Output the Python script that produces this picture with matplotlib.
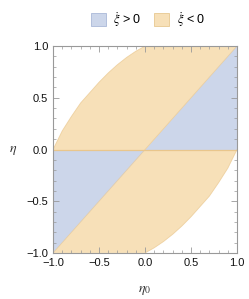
import matplotlib
matplotlib.use('Agg')
import matplotlib.pyplot as plt
from matplotlib.patches import Patch
from matplotlib.ticker import MultipleLocator

plt.rcParams['font.family'] = ['Liberation Sans', 'DejaVu Sans']
plt.rcParams['mathtext.fontset'] = 'stix'

# boundary curve (upper-left edge of the shaded area)
curve_x = [-1.0, -0.9, -0.8, -0.7, -0.6, -0.5, -0.4, -0.3, -0.2, -0.1, 0.0]
curve_y = [0.0, 0.18, 0.32, 0.45, 0.55, 0.65, 0.74, 0.82, 0.89, 0.95, 1.0]
# lower-right edge is the same curve mirrored through the origin
low_x = [-v for v in curve_x]
low_y = [-v for v in curve_y]

# blue triangles (xi dot > 0)
blue1_x = [0.0, 1.0, 1.0]
blue1_y = [0.0, 0.0, 1.0]
blue2_x = [0.0, -1.0, -1.0]
blue2_y = [0.0, 0.0, -1.0]

labels = [r'$\dot{\xi}$ > 0', r'$\dot{\xi}$ < 0']
blue = '#ccd6ea'
orange = '#f7e0b8'
line_c = '#e9c68c'

fig = plt.figure(figsize=(2.49, 2.99), dpi=100)
ax = fig.add_axes([0.213, 0.154, 0.739, 0.692])

ox = [-1.0] + curve_x + [1.0] + low_x + [-1.0]
oy = [-1.0] + curve_y + [1.0] + low_y + [-1.0]
ax.fill(ox, oy, color=orange, lw=0)
ax.plot(curve_x, curve_y, color=line_c, lw=0.6, alpha=0.7)
ax.plot(low_x, low_y, color=line_c, lw=0.6, alpha=0.7)
ax.fill(blue1_x, blue1_y, color=blue, lw=0)
ax.fill(blue2_x, blue2_y, color=blue, lw=0)
ax.plot([-1, 1], [0, 0], color=line_c, lw=0.9)
ax.plot([-1, 1], [-1, 1], color=line_c, lw=0.6, alpha=0.6)

ax.set_xlim(-1, 1)
ax.set_ylim(-1, 1)
ax.xaxis.set_major_locator(MultipleLocator(0.5))
ax.yaxis.set_major_locator(MultipleLocator(0.5))
ax.xaxis.set_minor_locator(MultipleLocator(0.1))
ax.yaxis.set_minor_locator(MultipleLocator(0.1))
ax.tick_params(which='both', direction='in', top=True, right=True,
               color='#999999', labelsize=8, labelcolor='#111111')
ax.tick_params(which='major', length=4, width=0.6)
ax.tick_params(which='minor', length=2, width=0.5)
ax.xaxis.set_major_formatter(lambda v, p: f'{v:.1f}'.replace('-', '\u2212'))
ax.yaxis.set_major_formatter(lambda v, p: f'{v:.1f}'.replace('-', '\u2212'))
for s in ax.spines.values():
    s.set_color('#999999')
    s.set_linewidth(0.8)

fig.text(145 / 249, 1 - 290 / 299, r'$\eta_0$', fontsize=10, color='#333333',
         ha='center', va='center')
fig.text(13 / 249, 1 - 150 / 299, r'$\eta$', fontsize=10, color='#333333',
         ha='center', va='center')

handles = [Patch(facecolor=blue, edgecolor='#aab8d8', lw=0.6),
           Patch(facecolor=orange, edgecolor='#e8c890', lw=0.6)]
fig.legend(handles, labels, loc='center', bbox_to_anchor=(0.595, 0.935), ncol=2,
           frameon=False, fontsize=9, handlelength=1.2, handleheight=1.2,
           handletextpad=0.6, columnspacing=1.0)

fig.savefig('out.png', dpi=100)
